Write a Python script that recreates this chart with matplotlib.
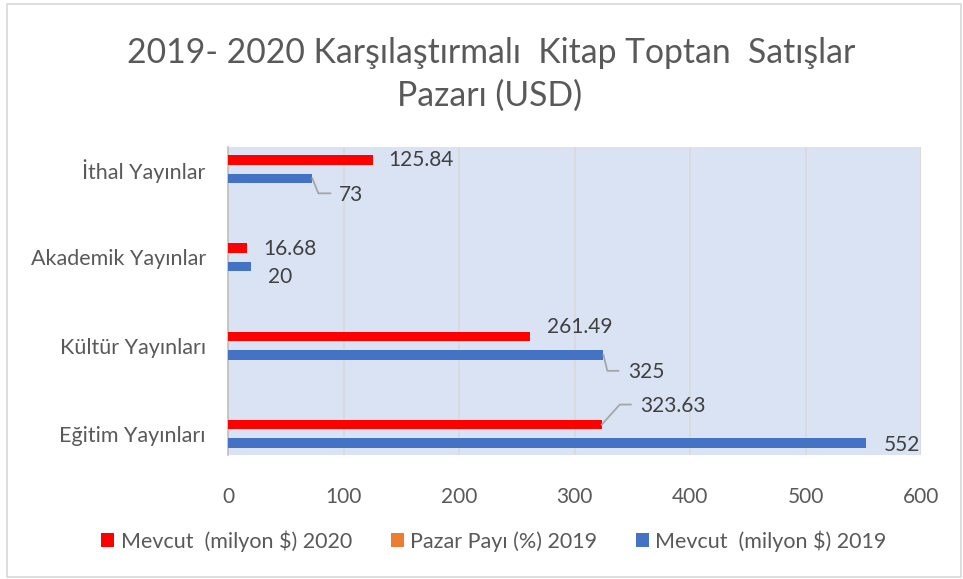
import numpy as np
import matplotlib
matplotlib.use('Agg')
import matplotlib.pyplot as plt
from matplotlib.patches import Rectangle
from matplotlib.lines import Line2D

plt.rcParams['font.family'] = ['Lato', 'DejaVu Sans']

categories = ['Eğitim Yayınları', 'Kültür Yayınları', 'Akademik Yayınlar', 'İthal Yayınlar']
mevcut_2020 = [323.63, 261.49, 16.68, 125.84]
pazar_payi_2019 = [0, 0, 0, 0]
mevcut_2019 = [552, 325, 20, 73]
labels_2020 = ['323.63', '261.49', '16.68', '125.84']
labels_2019 = ['552', '325', '20', '73']
x_ticks = [0, 100, 200, 300, 400, 500, 600]

RED = '#ff0000'
ORANGE = '#ed7d31'
BLUE = '#4472c4'
TXT = '#404040'
TICK = '#595959'

W, H = 963, 579
fig = plt.figure(figsize=(W / 100, H / 100), dpi=100)
fig.patch.set_facecolor('white')
# outer chart border
fig.add_artist(Rectangle((7 / W, 2 / H), 954 / W, 573 / H, transform=fig.transFigure,
                         fill=False, edgecolor='#d9d9d9', lw=1.2))

ax = fig.add_axes([228 / W, (H - 455) / H, (921 - 228) / W, (455 - 147) / H])
ax.set_facecolor('#dae3f3')

y = np.arange(len(categories))
h = 0.108
off = 0.105
ax.barh(y + off, mevcut_2020, height=h, color=RED, label='Mevcut  (milyon $) 2020', zorder=3)
ax.barh(y, pazar_payi_2019, height=h, color=ORANGE, label='Pazar Payı (%) 2019', zorder=3)
ax.barh(y - off, mevcut_2019, height=h, color=BLUE, label='Mevcut  (milyon $) 2019', zorder=3)

ax.set_xlim(0, 600)
ax.set_ylim(-0.24, 3.25)
ax.set_xticks(x_ticks)
ax.set_xticklabels([str(t) for t in x_ticks])
ax.set_yticks(y)
ax.set_yticklabels(categories)
ax.tick_params(axis='x', length=0, pad=23, labelsize=15, labelcolor=TICK)
ax.tick_params(axis='y', length=0, pad=16, labelsize=15.5, labelcolor=TICK)
ax.grid(axis='x', color='#d9d9d9', lw=1.2, zorder=0)
for s in ['top', 'right', 'bottom']:
    ax.spines[s].set_visible(False)
ax.spines['left'].set_color('#bfbfbf')
ax.spines['left'].set_linewidth(1.2)


def label(val, ypos, text, dx, dy, leader=None):
    ax.annotate(text, (val, ypos), xytext=(dx, dy), textcoords='offset pixels',
                ha='left', va='center', fontsize=15, color=TXT, zorder=5)
    if leader:
        x0, y0 = ax.transData.transform((val, ypos))
        xs = [x0 + p[0] for p in leader]
        ys = [y0 + p[1] for p in leader]
        fig.add_artist(Line2D(xs, ys, transform=None, color='#a6a6a6', lw=1.3, zorder=5))


# 2020 labels
label(mevcut_2020[0], 0 + off, labels_2020[0], 38, 19, [(0, 0), (18, 20), (29, 20)])
label(mevcut_2020[1], 1 + off, labels_2020[1], 17, 9)
label(mevcut_2020[2], 2 + off, labels_2020[2], 16, -1)
label(mevcut_2020[3], 3 + off, labels_2020[3], 15, 0)
# 2019 labels
label(mevcut_2019[0], 0 - off, labels_2019[0], 18, -2)
label(mevcut_2019[1], 1 - off, labels_2019[1], 25, -17, [(0, 0), (4, -16), (15, -16)])
label(mevcut_2019[2], 2 - off, labels_2019[2], 17, -10)
label(mevcut_2019[3], 3 - off, labels_2019[3], 27, -17, [(0, 0), (6, -15), (18, -15)])

fig.text(491 / W, 1 - 53 / H, '2019- 2020 Karşılaştırmalı  Kitap Toptan  Satışlar',
         ha='center', va='center', fontsize=24.3, color=TICK)
fig.text(490 / W, 1 - 96 / H, 'Pazarı (USD)', ha='center', va='center', fontsize=24.3, color=TICK)

handles, labs = ax.get_legend_handles_labels()
fig.legend(handles, labs, loc='center', bbox_to_anchor=(494 / W, 1 - 541 / H), ncol=3,
           frameon=False, fontsize=15.5, labelcolor=TICK, handlelength=0.6, handleheight=0.6,
           handletextpad=0.3, columnspacing=1.8)

fig.savefig('out.png', dpi=100, facecolor='white')
